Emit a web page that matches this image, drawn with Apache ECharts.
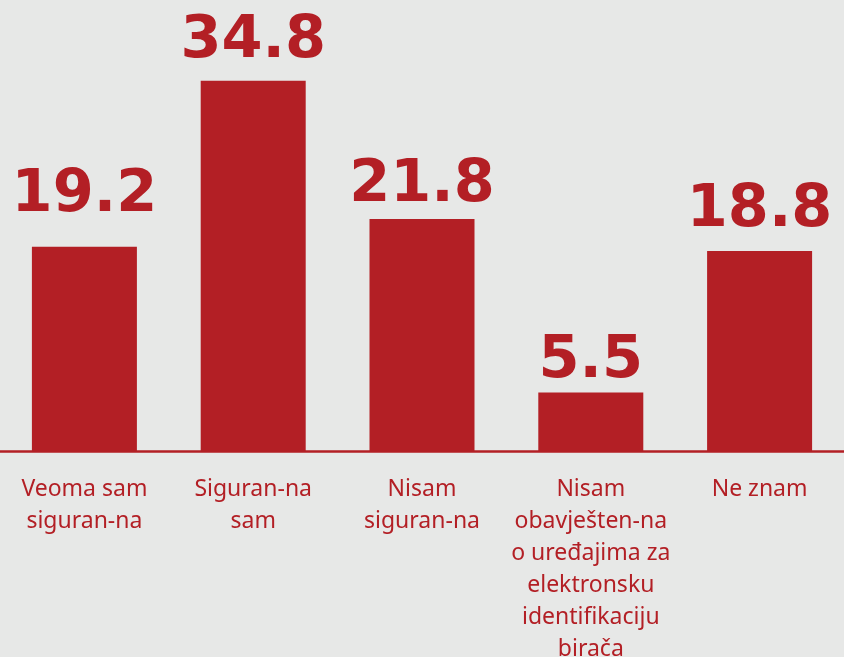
<!DOCTYPE html>
<html>
<head>
<meta charset="utf-8">
<script src="https://cdn.jsdelivr.net/npm/echarts@6/dist/echarts.min.js"></script>
<style>
  html, body { margin: 0; padding: 0; background: #e7e8e7; }
  #chart { width: 844px; height: 657px; }
</style>
</head>
<body>
<div id="chart"></div>
<script>
// data
var categories = [
    'Veoma sam\nsiguran-na',
    'Siguran-na\nsam',
    'Nisam\nsiguran-na',
    'Nisam\nobavješten-na\no uređajima za\nelektronsku\nidentifikaciju\nbirača',
    'Ne znam'
];
var values = [19.2, 34.8, 21.8, 5.5, 18.8];

// label gaps above each bar (layout only, the reference is hand placed)
var labelGap = [22, 10, 4, 1, 11];

var red = '#b31f25';

var chart = echarts.init(document.getElementById('chart'));
chart.setOption({
    backgroundColor: '#e7e8e7',
    animation: false,
    grid: {left: 0, right: 0, top: 0, bottom: 206, containLabel: false, outerBoundsMode: 'none'},
    xAxis: {
        type: 'category',
        data: categories,
        axisLine: {lineStyle: {color: red, width: 2.5}},
        axisTick: {show: false},
        axisLabel: {
            color: red,
            fontFamily: 'Noto Sans',
            fontSize: 23,
            lineHeight: 32,
            margin: 22,
            interval: 0
        }
    },
    yAxis: {
        type: 'value',
        min: 0,
        max: 42.4,
        show: false,
        splitLine: {show: false}
    },
    series: [{
        type: 'bar',
        data: values.map(function (v, i) {
            return {value: v, label: {distance: labelGap[i]}};
        }),
        barWidth: 105,
        itemStyle: {color: red},
        label: {
            show: true,
            position: 'top',
            color: red,
            fontFamily: 'DejaVu Sans',
            fontWeight: 'bold',
            fontSize: 59,
            formatter: function (p) { return p.value.toFixed(1); }
        }
    }]
});
</script>
</body>
</html>
